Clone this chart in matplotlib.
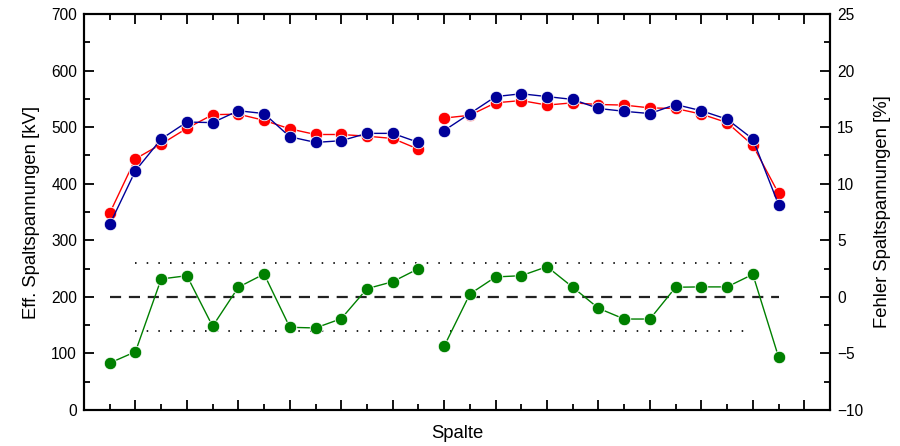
import numpy as np
import matplotlib
matplotlib.use("Agg")
import matplotlib.pyplot as plt
from matplotlib.ticker import MultipleLocator, NullFormatter

plt.rcParams['font.family'] = ['Liberation Sans', 'DejaVu Sans']

# Data (x = Spalte index, two groups separated by a gap)
x_left = [1, 2, 3, 4, 5, 6, 7, 8, 9, 10, 11, 12, 13]
x_right = [14, 15, 16, 17, 18, 19, 20, 21, 22, 23, 24, 25, 26, 27]

red_left = [348, 444, 470, 498, 522, 523, 512, 497, 487, 487, 484, 480, 461]
red_right = [516, 521, 543, 547, 539, 543, 540, 539, 534, 533, 523, 508, 468, 383]

blue_left = [328, 423, 479, 509, 508, 529, 524, 483, 473, 476, 489, 489, 473]
blue_right = [494, 524, 554, 559, 554, 549, 533, 528, 524, 540, 529, 514, 479, 363]

green_left = [-5.85, -4.85, 1.58, 1.87, -2.6, 0.85, 2.02, -2.69, -2.75, -1.93, 0.72, 1.34, 2.49]
green_right = [-4.37, 0.25, 1.76, 1.87, 2.67, 0.85, -1.01, -1.96, -1.96, 0.85, 0.88, 0.88, 1.99, -5.32]

zero_line_x = [1, 27]
limit_line_x = [2, 26]
limit_value = 3

fig = plt.figure(figsize=(9, 4.46), dpi=100)
ax1 = fig.add_axes([84/900, 36/446, (830-84)/900, (410-14)/446])
ax2 = ax1.twinx()

RED = '#ff0000'
BLUE = '#000099'
GREEN = '#008000'
mk = dict(marker='o', markersize=9, markeredgecolor='white', markeredgewidth=0.6)

for xs, ys in [(x_left, red_left), (x_right, red_right)]:
    ax1.plot(xs, ys, color=RED, lw=1.0, markerfacecolor=RED, **mk, zorder=3)
for xs, ys in [(x_left, blue_left), (x_right, blue_right)]:
    ax1.plot(xs, ys, color=BLUE, lw=1.0, markerfacecolor=BLUE, **mk, zorder=4)

ax2.plot(zero_line_x, [0, 0], color='#222222', lw=1.6, ls=(0, (5, 3.5)), zorder=1)
ax2.plot(limit_line_x, [limit_value, limit_value], color='#222222', lw=1.4, ls=(0, (0.8, 5.2)), zorder=1)
ax2.plot(limit_line_x, [-limit_value, -limit_value], color='#222222', lw=1.4, ls=(0, (0.8, 5.2)), zorder=1)
for xs, ys in [(x_left, green_left), (x_right, green_right)]:
    ax2.plot(xs, ys, color=GREEN, lw=1.0, markerfacecolor=GREEN, **mk, zorder=3)

ax1.set_xlim(0, 29)
ax1.set_ylim(0, 700)
ax2.set_ylim(-10, 25)

ax1.xaxis.set_major_locator(MultipleLocator(2))
ax1.xaxis.set_minor_locator(MultipleLocator(1))
ax1.xaxis.set_major_formatter(NullFormatter())
ax1.yaxis.set_major_locator(MultipleLocator(100))
ax1.yaxis.set_minor_locator(MultipleLocator(50))
ax2.yaxis.set_major_locator(MultipleLocator(5))
ax2.yaxis.set_minor_locator(MultipleLocator(2.5))

for ax in (ax1, ax2):
    for s in ax.spines.values():
        s.set_linewidth(1.5)

ax1.tick_params(which='major', direction='in', length=7, width=1.3, labelsize=11.2, top=True, right=False, pad=5)
ax1.tick_params(which='minor', direction='in', length=4, width=1.3, top=True, right=False)
ax2.tick_params(which='major', direction='in', length=7, width=1.3, labelsize=11.2, pad=5)
ax2.tick_params(which='minor', direction='in', length=4, width=1.3)

ax1.set_xlabel('Spalte', fontsize=13.3, labelpad=6)
ax1.set_ylabel('Eff. Spaltspannungen [kV]', fontsize=13.3, labelpad=8)
ax2.set_ylabel('Fehler Spaltspannungen [%]', fontsize=13.3, labelpad=8)

fig.savefig('out.png', dpi=100)
